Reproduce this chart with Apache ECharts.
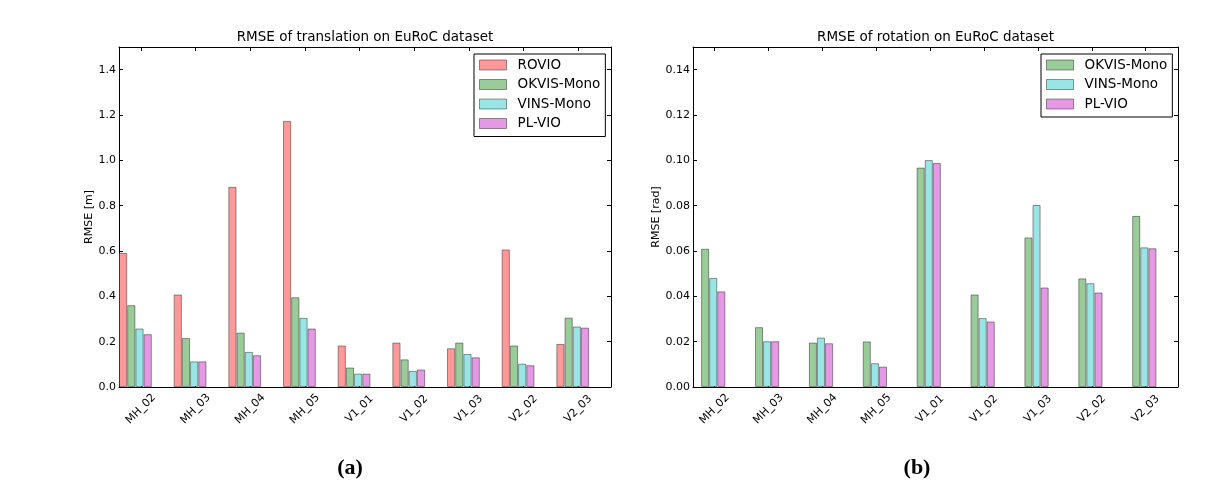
<!DOCTYPE html>
<html>
<head>
<meta charset="utf-8">
<script src="https://cdn.jsdelivr.net/npm/echarts@6/dist/echarts.min.js"></script>
<style>
html,body{margin:0;padding:0;background:#fff;}
#chart{width:1214px;height:493px;}
</style>
</head>
<body>
<div id="chart"></div>
<script>
const categories = ['MH_02','MH_03','MH_04','MH_05','V1_01','V1_02','V1_03','V2_02','V2_03'];
const transRovio = [0.592, 0.408, 0.883, 1.174, 0.183, 0.196, 0.171, 0.607, 0.190];
const transOkvis = [0.361, 0.216, 0.240, 0.396, 0.086, 0.122, 0.196, 0.183, 0.306];
const transVins  = [0.258, 0.113, 0.155, 0.305, 0.059, 0.071, 0.146, 0.103, 0.267];
const transPlvio = [0.233, 0.113, 0.140, 0.258, 0.059, 0.077, 0.131, 0.096, 0.262];
const rotOkvis = [0.0610, 0.0264, 0.0196, 0.0201, 0.0968, 0.0408, 0.0660, 0.0479, 0.0755];
const rotVins  = [0.0481, 0.0202, 0.0218, 0.0105, 0.1001, 0.0304, 0.0803, 0.0458, 0.0616];
const rotPlvio = [0.0422, 0.0202, 0.0193, 0.0090, 0.0988, 0.0289, 0.0439, 0.0417, 0.0612];
const transTicks = ['0.0','0.2','0.4','0.6','0.8','1.0','1.2','1.4'];
const rotTicks = ['0.00','0.02','0.04','0.06','0.08','0.10','0.12','0.14'];

const FONT = 'DejaVu Sans';
const colors = {ROVIO:'#ff9999', 'OKVIS-Mono':'#99cc99', 'VINS-Mono':'#99e5e5', 'PL-VIO':'#e599e5'};
const EDGE = 'rgba(0,0,0,0.4)';

// plot geometry
const G = [
  {left:119, top:47, width:492, height:340},
  {left:693, top:47, width:485, height:340}
];
function labelGrid(g){ const unit = g.width / categories.length; return {left:g.left - 0.1*unit, top:g.top, width:g.width, height:g.height}; }

const chart = echarts.init(document.getElementById('chart'), null, {renderer:'canvas'});

function frameX(grid, pos){
  return {type:'category', gridIndex:grid, data:categories, position:pos, boundaryGap:true,
    axisLine:{show:true, onZero:false, lineStyle:{color:'#000', width:1}}, axisTick:{show:false}, axisLabel:{show:false}, splitLine:{show:false}};
}
function labelX(grid, pos, showLabel){
  return {type:'category', gridIndex:grid, data:categories, position:pos, boundaryGap:true,
    axisLine:{show:false, onZero:false}, axisTick:{show:true, inside:true, alignWithLabel:true, length:4, lineStyle:{color:'#000', width:1}},
    axisLabel:{show:showLabel, rotate:45, align:'center', verticalAlign:'middle', margin:22, fontSize:11, fontFamily:FONT, color:'#000'},
    splitLine:{show:false}};
}
function valY(grid, pos, max, interval, ticks, name, nameGap, showLabel){
  return {type:'value', gridIndex:grid, position:pos, min:0, max:max, interval:interval,
    name: name, nameLocation:'middle', nameGap:nameGap, nameTextStyle:{fontSize:11, fontFamily:FONT, color:'#000'},
    axisLine:{show:true, onZero:false, lineStyle:{color:'#000', width:1}},
    axisTick:{show:true, inside:true, length:4, lineStyle:{color:'#000', width:1}},
    axisLabel:{show:showLabel, showMaxLabel:false, margin:3, fontSize:11, fontFamily:FONT, color:'#000',
      formatter:function(v){ const i = Math.round(v/interval); return ticks[i] !== undefined ? ticks[i] : ''; }},
    splitLine:{show:false}};
}
function bar(name, data, xi, yi){
  return {name:name, type:'bar', xAxisIndex:xi, yAxisIndex:yi, data:data, barWidth:'15%', barGap:'0%',
    itemStyle:{color:colors[name], borderColor:EDGE, borderWidth:1}, emphasis:{disabled:true}, silent:true};
}
function spacer(xi, yi, w){
  return {type:'bar', xAxisIndex:xi, yAxisIndex:yi, data:[], barWidth:w, barGap:'0%', silent:true, itemStyle:{color:'transparent'}};
}
function legend(names, left){
  return {orient:'vertical', left:left, top:54, data:names, icon:'rect', itemWidth:27, itemHeight:10, itemGap:3.5,
    padding:[3,5,5,5], borderColor:'#000', borderWidth:1, backgroundColor:'#fff', borderRadius:0, selectedMode:false,
    itemStyle:{borderColor:EDGE, borderWidth:1},
    textStyle:{fontSize:13.5, fontFamily:FONT, color:'#000', padding:[0,0,0,6], lineHeight:16}};
}

const option = {
  animation:false,
  backgroundColor:'#fff',
  title:[
    {text:'RMSE of translation on EuRoC dataset', left:G[0].left + G[0].width/2, top:30, textAlign:'center', padding:0,
      textStyle:{fontSize:13.5, fontWeight:'normal', fontFamily:FONT, color:'#000'}},
    {text:'RMSE of rotation on EuRoC dataset', left:G[1].left + G[1].width/2, top:30, textAlign:'center', padding:0,
      textStyle:{fontSize:13.5, fontWeight:'normal', fontFamily:FONT, color:'#000'}}
  ],
  grid:[
    Object.assign({outerBoundsMode:'none'}, G[0]),
    Object.assign({outerBoundsMode:'none'}, labelGrid(G[0])),
    Object.assign({outerBoundsMode:'none'}, G[1]),
    Object.assign({outerBoundsMode:'none'}, labelGrid(G[1]))
  ],
  xAxis:[
    frameX(0,'bottom'), frameX(0,'top'),
    labelX(1,'bottom',true), labelX(1,'top',false),
    frameX(2,'bottom'), frameX(2,'top'),
    labelX(3,'bottom',true), labelX(3,'top',false)
  ],
  yAxis:[
    valY(0,'left',1.5,0.2,transTicks,'RMSE [m]',24,true),
    valY(0,'right',1.5,0.2,transTicks,'',0,false),
    {type:'value', gridIndex:1, show:false},
    valY(2,'left',0.15,0.02,rotTicks,'RMSE [rad]',31,true),
    valY(2,'right',0.15,0.02,rotTicks,'',0,false),
    {type:'value', gridIndex:3, show:false}
  ],
  legend:[
    legend(['ROVIO','OKVIS-Mono','VINS-Mono','PL-VIO'], 474),
    legend(['OKVIS-Mono','VINS-Mono','PL-VIO'], 1041)
  ],
  series:[
    bar('ROVIO', transRovio, 0, 0),
    bar('OKVIS-Mono', transOkvis, 0, 0),
    bar('VINS-Mono', transVins, 0, 0),
    bar('PL-VIO', transPlvio, 0, 0),
    spacer(0, 0, '40%'),
    spacer(4, 3, '15%'),
    bar('OKVIS-Mono', rotOkvis, 4, 3),
    bar('VINS-Mono', rotVins, 4, 3),
    bar('PL-VIO', rotPlvio, 4, 3),
    spacer(4, 3, '40%')
  ],
  graphic:[
    {type:'text', style:{text:'(a)', x:350, y:468, textAlign:'center', textVerticalAlign:'middle',
      font:'bold 22px "Liberation Serif"', fill:'#000'}},
    {type:'text', style:{text:'(b)', x:917, y:468, textAlign:'center', textVerticalAlign:'middle',
      font:'bold 22px "Liberation Serif"', fill:'#000'}}
  ]
};
chart.setOption(option);
</script>
</body>
</html>
